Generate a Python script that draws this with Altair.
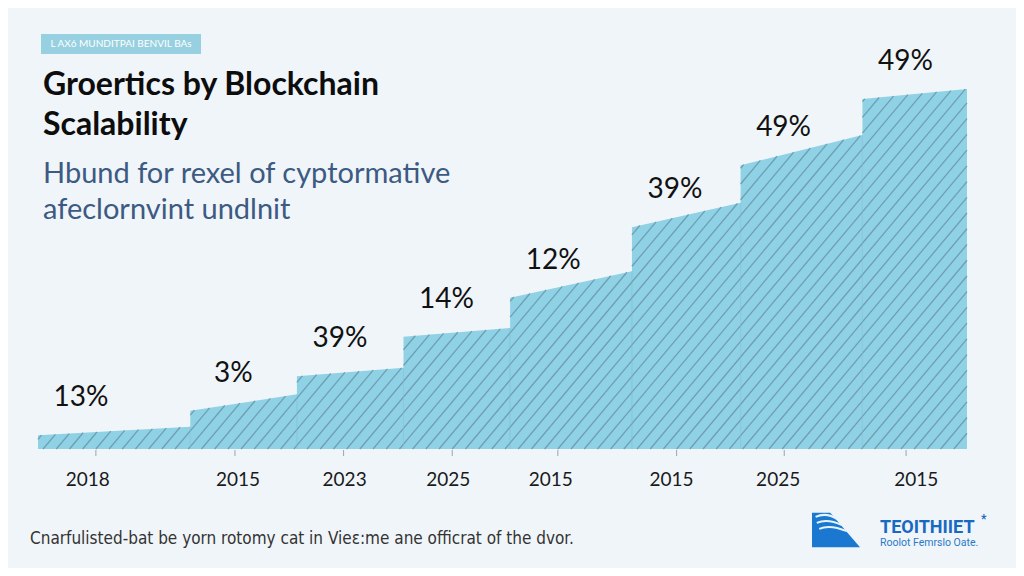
import altair as alt
import numpy as np
import pandas as pd

# ---------------- data ----------------
seg_start = [0.0, 1.5, 2.55, 3.6, 4.65, 5.85, 6.92, 8.12]
seg_end = [1.5, 2.55, 3.6, 4.65, 5.85, 6.92, 8.12, 9.15]
top_left = [1.9, 5.3, 10.1, 15.6, 21.0, 30.8, 39.4, 48.6]
top_right = [3.1, 7.6, 11.3, 16.8, 24.7, 34.2, 43.6, 50.0]
pct_labels = ["13%", "3%", "39%", "14%", "12%", "39%", "49%", "49%"]

tick_x = [0.57, 1.94, 3.01, 4.08, 5.12, 6.29, 7.35, 8.55]
label_x = [0.49, 1.97, 3.02, 4.04, 5.05, 6.24, 7.29, 8.65]
year_labels = ["2018", "2015", "2023", "2025", "2015", "2015", "2025", "2015"]

title_lines = ["Groertics by Blockchain", "Scalability"]
subtitle_lines = ["Hbund for rexel of cyptormative", "afeclornvint undlnit"]
tag_text = "L AX6 MUNDITPAI BENVIL BAs"
footer_text = "Cnarfulisted-bat be yorn rotomy cat in Vieɛ:me ane officrat of the dvor."
logo_title = "TEOITHIIET"
logo_sub = "Roolot Femrslo Oate."

# ---------------- styles ----------------
BG = "#f0f5f9"
FILL = "#8fd2e5"
HATCH = "#6a95a8"
FONT = "Lato"

xs = alt.Scale(domain=[0, 9.15], range=[30, 959])
ys = alt.Scale(domain=[0, 50], range=[441, 81])

# one trapezoid per segment
area_rows = []
for i in range(len(seg_start)):
    area_rows.append({"seg": i, "x": seg_start[i], "y": top_left[i]})
    area_rows.append({"seg": i, "x": seg_end[i], "y": top_right[i]})
area_df = pd.DataFrame(area_rows)

seg_df = pd.DataFrame({
    "xs": seg_start, "xe": seg_end, "tl": top_left, "tr": top_right,
    "label": pct_labels,
})

# hatch lines clipped to each segment (decoration derived from segment data)
c = 0.0595      # x-units per y-unit (≈50° lines)
step = 0.13     # horizontal spacing in x-units
hatch_rows = []
for b in np.arange(-3.2, 9.2, step):
    for i in range(len(seg_start)):
        a0, a1, t0, t1 = seg_start[i], seg_end[i], top_left[i], top_right[i]
        m = (t1 - t0) / (a1 - a0)
        y_lo = max(0.0, (a0 - b) / c)
        y_top = (t0 + m * (b - a0)) / (1 - m * c)
        y_hi = min((a1 - b) / c, y_top)
        if y_hi > y_lo:
            hatch_rows.append({"x": b + c * y_lo, "y": y_lo,
                               "x2": b + c * y_hi, "y2": y_hi})
hatch_df = pd.DataFrame(hatch_rows)

sep_df = pd.DataFrame({"x": seg_start[1:], "y": top_right[:-1]})

ticks_df = pd.DataFrame({"x": tick_x})
years_df = pd.DataFrame({"x": label_x, "t": year_labels})

one = pd.DataFrame({"a": [0]})

area = alt.Chart(area_df).mark_area(color=FILL, opacity=1, interpolate="linear").encode(
    x=alt.X("x:Q", scale=xs, axis=None),
    y=alt.Y("y:Q", scale=ys, axis=None, stack=None),
    y2=alt.datum(0),
    detail="seg:N",
)

hatch = alt.Chart(hatch_df).mark_rule(color=HATCH, strokeWidth=1.3, opacity=0.85).encode(
    x=alt.X("x:Q", scale=xs, axis=None),
    y=alt.Y("y:Q", scale=ys, axis=None),
    x2="x2:Q", y2="y2:Q",
)

seps = alt.Chart(sep_df).mark_rule(color="#6fb6cc", strokeWidth=1, opacity=0.5).encode(
    x=alt.X("x:Q", scale=xs, axis=None),
    y=alt.Y("y:Q", scale=ys, axis=None),
    y2=alt.datum(0),
)

pct = alt.Chart(seg_df).mark_text(
    font=FONT, fontSize=28, color="#111111", dx=43, dy=-37, baseline="middle", align="center"
).encode(
    x=alt.X("xs:Q", scale=xs, axis=None),
    y=alt.Y("tl:Q", scale=ys, axis=None),
    text="label:N",
)

ticks = alt.Chart(ticks_df).mark_rule(color="#9aa5ad", strokeWidth=1).encode(
    x=alt.X("x:Q", scale=xs, axis=None),
    y=alt.value(442), y2=alt.value(448),
)

years = alt.Chart(years_df).mark_text(
    font=FONT, fontSize=19, color="#1a1a1a", baseline="middle", align="center"
).encode(
    x=alt.X("x:Q", scale=xs, axis=None),
    y=alt.value(472),
    text="t:N",
)

def txt(text, x, y, size, color, weight="normal", font=FONT, align="left", baseline="alphabetic"):
    return alt.Chart(one).mark_text(
        text=text, font=font, fontSize=size, color=color, fontWeight=weight,
        align=align, baseline=baseline,
    ).encode(x=alt.value(x), y=alt.value(y))

title1 = txt(title_lines[0], 35, 87, 32, "#0d0d0d", "bold")
title2 = txt(title_lines[1], 35, 127, 32, "#0d0d0d", "bold")
sub1 = txt(subtitle_lines[0], 35, 175, 29, "#3c5a82")
sub2 = txt(subtitle_lines[1], 35, 211, 29, "#3c5a82")

tag_rect = alt.Chart(one).mark_rect(color="#97d0e0").encode(
    x=alt.value(33), x2=alt.value(193), y=alt.value(26), y2=alt.value(46)
)
tag_txt = txt(tag_text, 113, 36, 10, "#ffffff", align="center", baseline="middle")

footer = txt(footer_text, 22, 536, 17, "#333333", font="Liberation Sans Narrow, DejaVu Sans Condensed, Roboto")

logo_shape = alt.Chart(one).mark_point(
    shape="M -1 -0.72 L -0.24 -0.72 L 1 0.72 L -1 0.72 Z",
    filled=True, color="#1a78d0", opacity=1, size=2304,
).encode(x=alt.value(828), y=alt.value(522))
logo_waves = alt.Chart(one).mark_point(
    shape="M -0.85 -0.55 Q -0.4 -0.75 0.05 -0.45 M -0.8 -0.3 Q -0.35 -0.5 0.25 -0.2 M -0.7 -0.05 Q -0.25 -0.25 0.45 0.05",
    filled=False, color="#e6f3fb", strokeWidth=2, opacity=1, size=2304,
).encode(x=alt.value(828), y=alt.value(522))
logo_t = txt(logo_title, 872, 525, 18, "#1769c2", "bold", font="Roboto")
logo_star = txt("*", 973, 515, 12, "#1769c2", "bold", font="Roboto")
logo_s = txt(logo_sub, 872, 538, 10.5, "#2a78c8", font="Roboto")

chart = alt.layer(
    area, hatch, seps, ticks, years, pct,
    title1, title2, sub1, sub2, tag_rect, tag_txt, footer,
    logo_shape, logo_waves, logo_t, logo_star, logo_s,
).properties(
    width=1008, height=560,
    autosize=alt.AutoSizeParams(type="none"),
    padding=0,
    background=BG,
).configure_view(stroke=None)

chart.save("out.html", embed_options={"renderer": "svg", "actions": False})
